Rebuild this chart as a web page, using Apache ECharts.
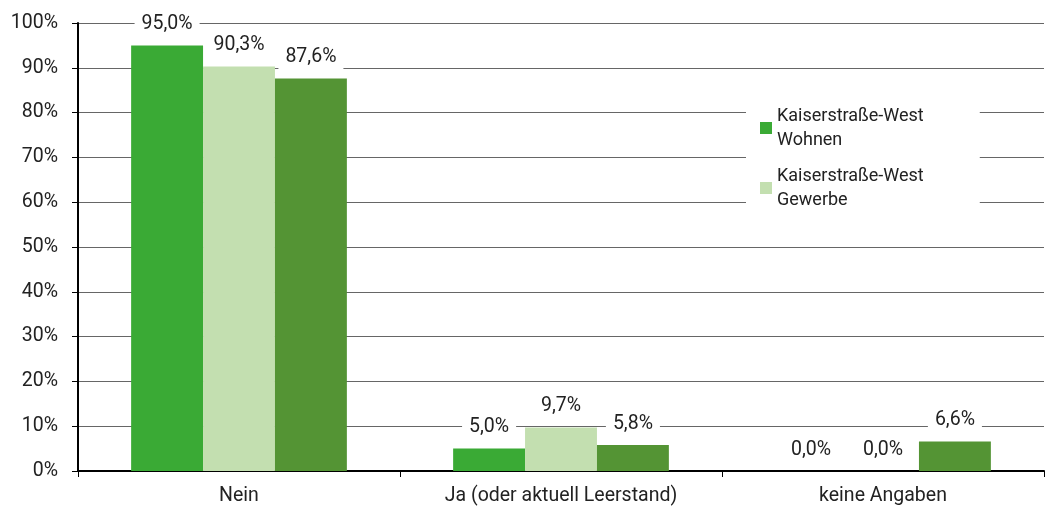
<!DOCTYPE html>
<html><head><meta charset="utf-8">
<script src="https://cdn.jsdelivr.net/npm/echarts@6/dist/echarts.min.js"></script>
<style>html,body{margin:0;padding:0;background:#fff}#c{width:1045px;height:509px}</style>
</head><body><div id="c"></div>
<script>
const categories = ['Nein', 'Ja (oder aktuell Leerstand)', 'keine Angaben'];
const seriesNames = ['Kaiserstraße-West\nWohnen', 'Kaiserstraße-West\nGewerbe', 'Kaiserstraße-West\nGesamt'];
const wohnen = [95.0, 5.0, 0.0];
const gewerbe = [90.3, 9.7, 0.0];
const gesamt = [87.6, 5.8, 6.6];
const colors = ['#3aaa35', '#c3dfb0', '#549434'];
const fontFam = 'Roboto, "Noto Sans", sans-serif';

const fmt = v => v.toFixed(1).replace('.', ',') + '%';
function mk(name, data, color) {
  return {
    name, type: 'bar', data, barGap: '0%', barCategoryGap: '33%',
    itemStyle: { color },
    label: {
      show: true, position: 'top', distance: 9,
      formatter: p => fmt(p.value),
      fontFamily: fontFam, fontSize: 19.5, color: '#222',
      backgroundColor: '#fff', padding: [2, 7]
    }
  };
}
const chart = echarts.init(document.getElementById('c'));
chart.setOption({
  animation: false,
  textStyle: { fontFamily: fontFam },
  grid: { left: 78, right: 1, top: 23, bottom: 38 },
  legend: {
    data: [seriesNames[0], seriesNames[1]],
    orient: 'vertical', left: 746, top: 96,
    backgroundColor: '#fff', padding: [8, 56, 6, 14],
    itemWidth: 12, itemHeight: 12, itemGap: 12,
    icon: 'rect',
    textStyle: { fontSize: 18, lineHeight: 24, color: '#222', fontFamily: fontFam }
  },
  xAxis: {
    type: 'category', data: categories,
    axisLine: { lineStyle: { color: '#000', width: 2 } },
    axisTick: { show: true, length: 6, lineStyle: { color: '#000' } },
    axisLabel: { fontSize: 19.5, color: '#222', margin: 15, fontFamily: fontFam }
  },
  yAxis: {
    type: 'value', min: 0, max: 100, interval: 10,
    axisLine: { show: true, lineStyle: { color: '#000', width: 2 } },
    axisTick: { show: true, length: 6, lineStyle: { color: '#000' } },
    axisLabel: { fontSize: 19.5, color: '#222', margin: 20, formatter: v => v + '%', fontFamily: fontFam },
    splitLine: { lineStyle: { color: '#666', width: 1 } }
  },
  series: [mk(seriesNames[0], wohnen, colors[0]), mk(seriesNames[1], gewerbe, colors[1]), mk(seriesNames[2], gesamt, colors[2])]
});
</script></body></html>
